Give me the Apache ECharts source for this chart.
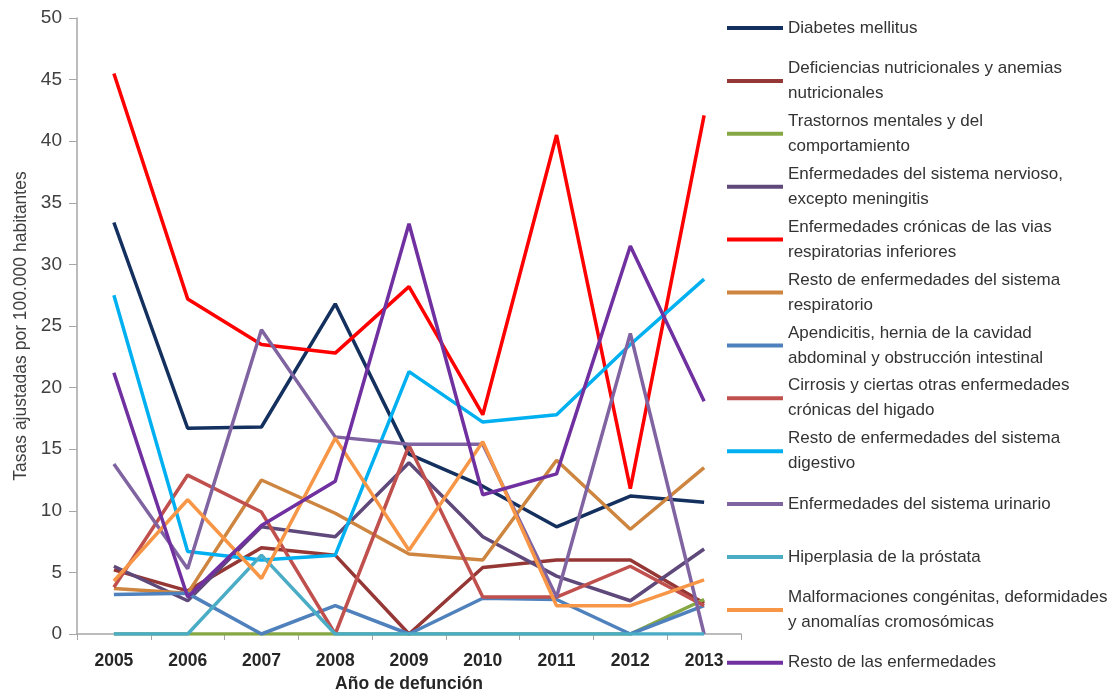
<!DOCTYPE html>
<html>
<head>
<meta charset="utf-8">
<script src="https://cdn.jsdelivr.net/npm/echarts@6/dist/echarts.min.js"></script>
<style>html,body{margin:0;padding:0;background:#fff}#c{width:1117px;height:698px}</style>
</head>
<body>
<div id="c"></div>
<script>
var years = ['2005','2006','2007','2008','2009','2010','2011','2012','2013'];
var yTicks = [0,5,10,15,20,25,30,35,40,45,50];

var names = [
  'Diabetes mellitus',
  'Deficiencias nutricionales y anemias nutricionales',
  'Trastornos mentales y del comportamiento',
  'Enfermedades del sistema nervioso, excepto meningitis',
  'Enfermedades crónicas de las vias respiratorias inferiores',
  'Resto de enfermedades del sistema respiratorio',
  'Apendicitis, hernia de la cavidad abdominal y obstrucción intestinal',
  'Cirrosis y ciertas otras enfermedades crónicas del higado',
  'Resto de enfermedades del sistema digestivo',
  'Enfermedades del sistema urinario',
  'Hiperplasia de la próstata',
  'Malformaciones congénitas, deformidades y anomalías cromosómicas',
  'Resto de las enfermedades'
];
var legendLabels = [
  'Diabetes mellitus',
  'Deficiencias nutricionales y anemias\nnutricionales',
  'Trastornos mentales y del\ncomportamiento',
  'Enfermedades del sistema nervioso,\nexcepto meningitis',
  'Enfermedades crónicas de las vias\nrespiratorias inferiores',
  'Resto de enfermedades del sistema\nrespiratorio',
  'Apendicitis, hernia de la cavidad\nabdominal y obstrucción intestinal',
  'Cirrosis y ciertas otras enfermedades\ncrónicas del higado',
  'Resto de enfermedades del sistema\ndigestivo',
  'Enfermedades del sistema urinario',
  'Hiperplasia de la próstata',
  'Malformaciones congénitas, deformidades\ny anomalías cromosómicas',
  'Resto de las enfermedades'
];

var diabetes       = [33.4, 16.7, 16.8, 26.8, 14.6, 12.0, 8.7, 11.2, 10.7];
var deficiencias   = [5.2, 3.5, 7.0, 6.4, 0.0, 5.4, 6.0, 6.0, 2.5];
var trastornos     = [0, 0, 0, 0, 0, 0, 0, 0, 2.8];
var nervioso       = [5.5, 2.7, 8.7, 7.9, 13.9, 7.9, 4.7, 2.7, 6.9];
var cronicasResp   = [45.5, 27.2, 23.5, 22.8, 28.2, 17.8, 40.5, 11.8, 42.1];
var restoResp      = [3.7, 3.3, 12.5, 9.8, 6.5, 6.0, 14.1, 8.5, 13.5];
var apendicitis    = [3.2, 3.3, 0.0, 2.3, 0.0, 2.9, 2.8, 0.0, 2.3];
var cirrosis       = [3.8, 12.9, 9.9, 0.0, 15.3, 3.0, 3.0, 5.5, 2.3];
var restoDigestivo = [27.5, 6.7, 6.0, 6.4, 21.3, 17.2, 17.8, 23.5, 28.8];
var urinario       = [13.8, 5.3, 24.7, 16.0, 15.4, 15.4, 3.0, 24.4, 0.0];
var hiperplasia    = [0, 0, 6.4, 0, 0, 0, 0, 0, 0];
var malformaciones = [4.3, 10.9, 4.5, 15.9, 6.8, 15.6, 2.3, 2.3, 4.4];
var restoEnf       = [21.2, 3.0, 8.8, 12.4, 33.3, 11.3, 13.0, 31.5, 18.9];

var seriesValues = [diabetes, deficiencias, trastornos, nervioso, cronicasResp, restoResp,
  apendicitis, cirrosis, restoDigestivo, urinario, hiperplasia, malformaciones, restoEnf];
var colors = ['#14305f','#953735','#86a844','#5f497a','#ff0000','#cd853f',
  '#4f81bd','#c0504d','#00b0f0','#8064a2','#4bacc6','#f79646','#7030a0'];

var FONT = "'Liberation Sans', Arial, sans-serif";
var chart = echarts.init(document.getElementById('c'));

var series = names.map(function (n, i) {
  return {
    name: n, type: 'line', data: seriesValues[i], symbol: 'none',
    lineStyle: { width: 3.5, color: colors[i] }, itemStyle: { color: colors[i] }
  };
});

var legends = names.map(function (n, i) {
  var iconY = 28 + 52.9 * i;
  var two = legendLabels[i].indexOf('\n') >= 0;
  return {
    data: [n], orient: 'vertical', left: 727,
    top: two ? iconY - 37.5 : iconY - 12.5,
    padding: 0, icon: 'rect', itemWidth: 56, itemHeight: 4,
    formatter: function () { return legendLabels[i]; },
    textStyle: { fontFamily: FONT, fontSize: 17, color: '#333', lineHeight: 25,
      padding: two ? [25, 0, 0, 0] : 0 }
  };
});

chart.setOption({
  animation: false,
  color: colors,
  grid: { left: 77, right: 376, top: 18, bottom: 60 },
  legend: legends,
  xAxis: {
    type: 'category', data: years, boundaryGap: true,
    name: 'Año de defunción', nameLocation: 'middle', nameGap: 41,
    nameTextStyle: { fontFamily: FONT, fontSize: 17.5, fontWeight: 'bold', color: '#262626' },
    axisLine: { lineStyle: { color: '#a6a6a6', width: 1.5 } },
    axisTick: { show: true, length: 6, alignWithLabel: false, lineStyle: { color: '#a6a6a6' } },
    axisLabel: { margin: 18, fontFamily: FONT, fontSize: 17.5, fontWeight: 'bold', color: '#262626' }
  },
  yAxis: {
    type: 'value', min: 0, max: 50, interval: 5,
    name: 'Tasas ajustadas por 100.000 habitantes', nameLocation: 'middle', nameGap: 47,
    nameRotate: 90,
    nameTextStyle: { fontFamily: FONT, fontSize: 17.5, color: '#404040' },
    splitLine: { show: false },
    axisLine: { show: true, lineStyle: { color: '#a6a6a6', width: 1.5 } },
    axisTick: { show: true, length: 8, lineStyle: { color: '#a6a6a6' } },
    axisLabel: { margin: 15, fontFamily: FONT, fontSize: 19, color: '#404040',
      formatter: function (v) { return yTicks.indexOf(v) >= 0 ? String(v) : ''; } }
  },
  series: series
});
</script>
</body>
</html>
